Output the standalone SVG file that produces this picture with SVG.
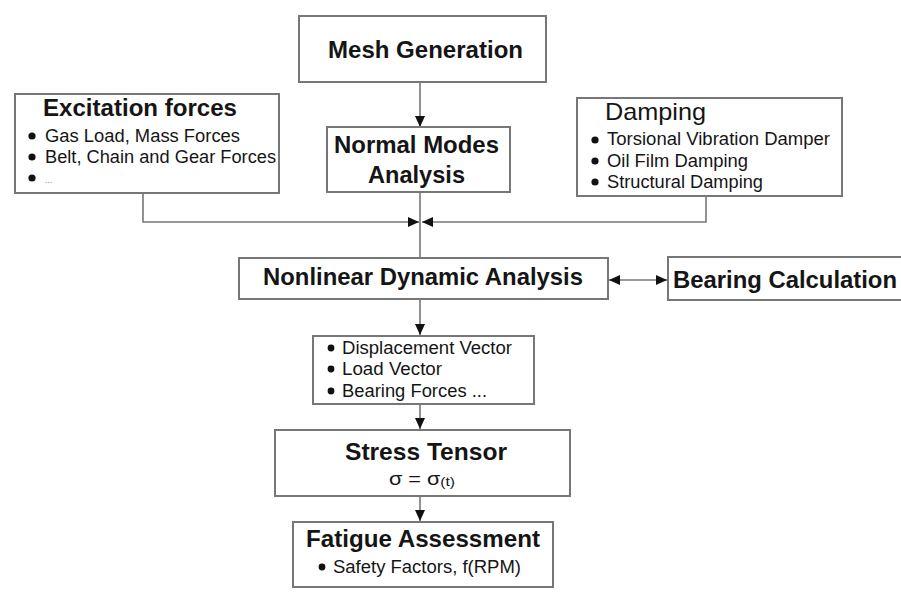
<svg xmlns="http://www.w3.org/2000/svg" width="901" height="597" viewBox="0 0 901 597">
<style>
.box{fill:#fff;stroke:#777;stroke-width:2}
.h{font-family:"Liberation Sans",Arial,sans-serif;font-weight:bold;font-size:24px;fill:#151515}
.hr{font-family:"Liberation Sans",Arial,sans-serif;font-size:24px;fill:#151515}
.b{font-family:"Liberation Sans",Arial,sans-serif;font-size:17.5px;fill:#151515}
.dot{fill:#111}
.c{fill:none;stroke:#777;stroke-width:1.6}
</style>
<defs>
<marker id="ah" markerUnits="userSpaceOnUse" markerWidth="12" markerHeight="10" refX="11" refY="5" orient="auto-start-reverse">
<path d="M0,0 L11,5 L0,10 z" fill="#111"/>
</marker>
</defs>
<rect width="901" height="597" fill="#fff"/>
<g id="connectors">
<line class="c" x1="420" y1="82" x2="420" y2="127" marker-end="url(#ah)"/>
<line class="c" x1="420" y1="192" x2="420" y2="258"/>
<path class="c" d="M143,193 V222 H419" marker-end="url(#ah)"/>
<path class="c" d="M706,196 V222 H422" marker-end="url(#ah)"/>
<line class="c" x1="420" y1="299" x2="420" y2="335" marker-end="url(#ah)"/>
<line class="c" x1="609" y1="280" x2="667" y2="280" marker-start="url(#ah)" marker-end="url(#ah)"/>
<line class="c" x1="420" y1="404" x2="420" y2="429" marker-end="url(#ah)"/>
<line class="c" x1="420" y1="496" x2="420" y2="521" marker-end="url(#ah)"/>
</g>
<g id="mesh">
<rect class="box" x="299" y="16" width="247" height="66"/>
<text class="h" x="328" y="58" textLength="195" lengthAdjust="spacingAndGlyphs">Mesh Generation</text>
</g>
<g id="excitation">
<rect class="box" x="15" y="94" width="264" height="99"/>
<text class="h" x="43" y="116" textLength="194" lengthAdjust="spacingAndGlyphs">Excitation forces</text>
<circle class="dot" cx="32" cy="136" r="3.6"/>
<text class="b" x="45" y="142" textLength="195" lengthAdjust="spacingAndGlyphs">Gas Load, Mass Forces</text>
<circle class="dot" cx="32" cy="157" r="3.6"/>
<text class="b" x="45" y="163" textLength="231" lengthAdjust="spacingAndGlyphs">Belt, Chain and Gear Forces</text>
<circle class="dot" cx="32" cy="178" r="3.6"/>
<text class="b" x="45" y="183" style="font-size:9px;fill:#888">...</text>
</g>
<g id="normal-modes">
<rect class="box" x="327" y="127" width="183" height="65"/>
<text class="h" x="334" y="153" textLength="165" lengthAdjust="spacingAndGlyphs">Normal Modes</text>
<text class="h" x="368" y="183" textLength="97" lengthAdjust="spacingAndGlyphs">Analysis</text>
</g>
<g id="damping">
<rect class="box" x="577" y="98" width="265" height="98"/>
<text class="hr" x="605" y="120" textLength="101" lengthAdjust="spacingAndGlyphs">Damping</text>
<circle class="dot" cx="595" cy="140" r="3.6"/>
<text class="b" x="607" y="145" textLength="223" lengthAdjust="spacingAndGlyphs">Torsional Vibration Damper</text>
<circle class="dot" cx="595" cy="161" r="3.6"/>
<text class="b" x="607" y="167" textLength="141" lengthAdjust="spacingAndGlyphs">Oil Film Damping</text>
<circle class="dot" cx="595" cy="182" r="3.6"/>
<text class="b" x="607" y="188" textLength="156" lengthAdjust="spacingAndGlyphs">Structural Damping</text>
</g>
<g id="nonlinear">
<rect class="box" x="239" y="258" width="369" height="41"/>
<text class="h" x="263" y="285" textLength="320" lengthAdjust="spacingAndGlyphs">Nonlinear Dynamic Analysis</text>
</g>
<g id="bearing">
<rect class="box" x="668" y="257" width="240" height="43"/>
<text class="h" x="673" y="288" textLength="224" lengthAdjust="spacingAndGlyphs">Bearing Calculation</text>
</g>
<g id="results">
<rect class="box" x="313" y="336" width="221" height="68"/>
<circle class="dot" cx="331" cy="348" r="3.4"/>
<text class="b" x="342" y="354" textLength="170" lengthAdjust="spacingAndGlyphs">Displacement Vector</text>
<circle class="dot" cx="331" cy="369" r="3.4"/>
<text class="b" x="342" y="375" textLength="100" lengthAdjust="spacingAndGlyphs">Load Vector</text>
<circle class="dot" cx="331" cy="391" r="3.4"/>
<text class="b" x="342" y="397" textLength="145" lengthAdjust="spacingAndGlyphs">Bearing Forces ...</text>
</g>
<g id="stress">
<rect class="box" x="275" y="430" width="295" height="66"/>
<text class="h" x="345" y="460" textLength="162" lengthAdjust="spacingAndGlyphs">Stress Tensor</text>
<text class="b" x="389" y="485" style="font-size:18px" textLength="66" lengthAdjust="spacingAndGlyphs">σ = σ<tspan style="font-size:13px" dy="1">(t)</tspan></text>
</g>
<g id="fatigue">
<rect class="box" x="293" y="522" width="260" height="65"/>
<text class="h" x="306" y="547" textLength="234" lengthAdjust="spacingAndGlyphs">Fatigue Assessment</text>
<circle class="dot" cx="322" cy="567" r="3.4"/>
<text class="b" x="333" y="573" textLength="188" lengthAdjust="spacingAndGlyphs">Safety Factors, f(RPM)</text>
</g>
</svg>
